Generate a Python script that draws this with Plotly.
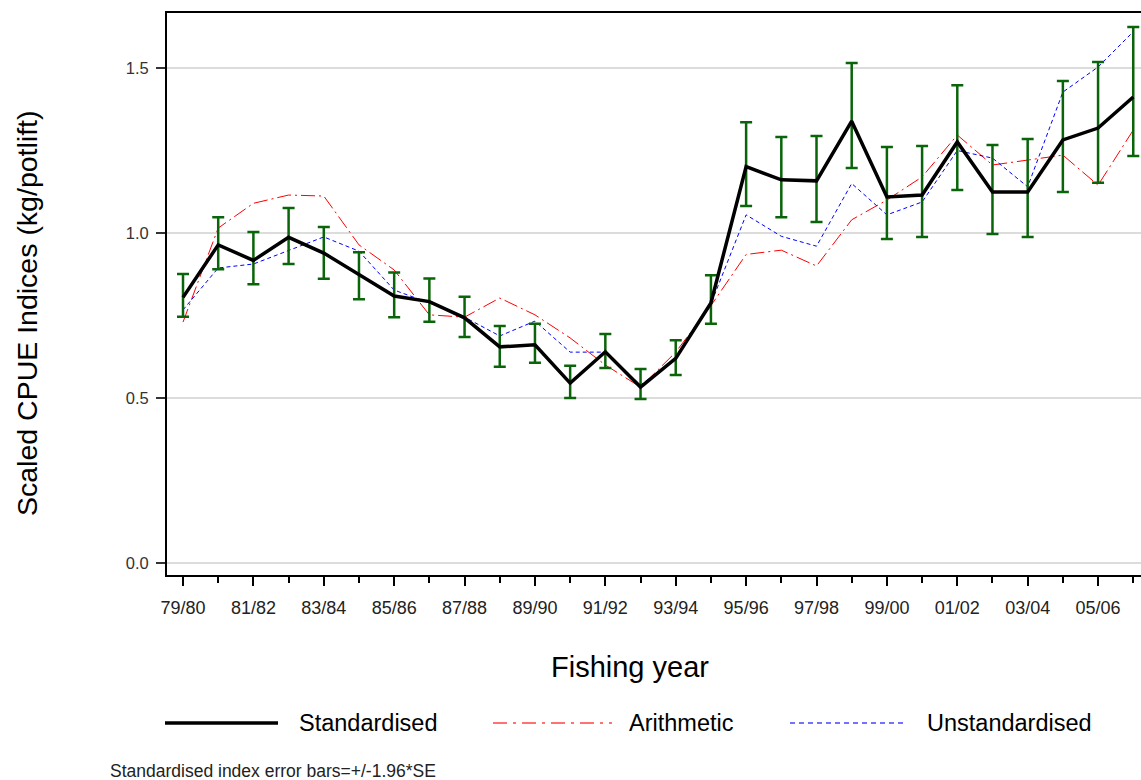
import plotly.graph_objects as go

years = ["79/80", "80/81", "81/82", "82/83", "83/84", "84/85", "85/86", "86/87",
         "87/88", "88/89", "89/90", "90/91", "91/92", "92/93", "93/94", "94/95",
         "95/96", "96/97", "97/98", "98/99", "99/00", "00/01", "01/02", "02/03",
         "03/04", "04/05", "05/06", "06/07"]

standardised = [0.805, 0.964, 0.917, 0.987, 0.939, 0.873, 0.809, 0.792, 0.743, 0.655,
                0.661, 0.545, 0.640, 0.533, 0.620, 0.788, 1.201, 1.161, 1.158, 1.339,
                1.109, 1.115, 1.276, 1.124, 1.124, 1.282, 1.318, 1.412]
upper_ci = [0.876, 1.048, 1.003, 1.076, 1.018, 0.942, 0.880, 0.862, 0.807, 0.718,
            0.725, 0.598, 0.694, 0.588, 0.675, 0.872, 1.336, 1.291, 1.294, 1.515,
            1.261, 1.264, 1.448, 1.267, 1.285, 1.461, 1.518, 1.624]
lower_ci = [0.746, 0.890, 0.845, 0.906, 0.861, 0.799, 0.745, 0.731, 0.685, 0.595,
            0.607, 0.500, 0.591, 0.497, 0.570, 0.725, 1.082, 1.048, 1.033, 1.197,
            0.982, 0.988, 1.130, 0.997, 0.988, 1.124, 1.152, 1.233]
arithmetic = [0.730, 1.015, 1.090, 1.115, 1.112, 0.964, 0.888, 0.752, 0.745, 0.803,
              0.752, 0.682, 0.600, 0.533, 0.639, 0.780, 0.935, 0.948, 0.900, 1.040,
              1.100, 1.170, 1.297, 1.206, 1.221, 1.236, 1.145, 1.312]
unstandardised = [0.767, 0.894, 0.906, 0.948, 0.988, 0.945, 0.827, 0.788, 0.745, 0.688,
                  0.733, 0.639, 0.639, 0.539, 0.621, 0.785, 1.055, 0.990, 0.960, 1.150,
                  1.055, 1.094, 1.250, 1.227, 1.140, 1.427, 1.503, 1.610]

y_ticks = [0.0, 0.5, 1.0, 1.5]
legend_names = ["Standardised", "Arithmetic", "Unstandardised"]

idx = list(range(len(years)))
err_plus = [u - s for u, s in zip(upper_ci, standardised)]
err_minus = [s - l for s, l in zip(standardised, lower_ci)]

W, H = 1141, 780
ML, MR, MT, MB = 167, 0, 13, 205
PW, PH = W - ML - MR, H - MT - MB

def px(x):
    return (x - ML) / PW

def py(y):
    return (H - MB - y) / PH

fig = go.Figure()
fig.add_trace(go.Scatter(x=idx, y=arithmetic, mode="lines", name=legend_names[1],
                         line=dict(color="#ff0000", width=1, dash="14px,4px,2px,4px"),
                         showlegend=False))
fig.add_trace(go.Scatter(x=idx, y=unstandardised, mode="lines", name=legend_names[2],
                         line=dict(color="#0000ff", width=1, dash="4px,3px"),
                         showlegend=False))
fig.add_trace(go.Scatter(x=idx, y=standardised, mode="lines", name=legend_names[0],
                         line=dict(color="#000000", width=3.5),
                         error_y=dict(type="data", symmetric=False, array=err_plus,
                                      arrayminus=err_minus, color="#0a640a",
                                      thickness=2.5, width=6),
                         showlegend=False))

narrow = "Liberation Sans Narrow, Arial Narrow, Liberation Sans, Arial, sans-serif"
sans = "Liberation Sans, Arial, sans-serif"

fig.update_layout(
    width=W, height=H,
    margin=dict(l=ML, r=MR, t=MT, b=MB, pad=0),
    paper_bgcolor="white", plot_bgcolor="white",
    font=dict(family=sans, color="#000000"),
    xaxis=dict(
        range=[-0.455, 27.22],
        tickmode="array",
        tickvals=idx[::2],
        ticktext=years[::2],
        ticks="outside", ticklen=9, tickwidth=1.5, tickcolor="#000000",
        minor=dict(tickmode="array", tickvals=idx[1::2], ticks="outside",
                   ticklen=6, tickwidth=1.5, tickcolor="#000000", showgrid=False),
        showgrid=False, zeroline=False,
        showline=True, linecolor="#000000", linewidth=2, mirror=True,
        tickfont=dict(family=narrow, size=18, color="#222222"),
        ticklabelstandoff=6,
    ),
    yaxis=dict(
        range=[-0.0364, 1.6667],
        tickmode="array",
        tickvals=y_ticks,
        ticktext=[f"{v:.1f}" for v in y_ticks],
        ticks="outside", ticklen=9, tickwidth=1.5, tickcolor="#333333",
        showgrid=True, gridcolor="#dcdcdc", gridwidth=2,
        zeroline=False,
        showline=True, linecolor="#000000", linewidth=2,
        tickfont=dict(family=sans, size=16.5, color="#333333"),
        ticklabelstandoff=4,
    ),
)

annotations = [
    dict(text="Fishing year", x=px(630), y=py(667), xref="paper", yref="paper",
         showarrow=False, xanchor="center", yanchor="middle",
         font=dict(family=sans, size=29, color="#000000")),
    dict(text="Scaled CPUE Indices (kg/potlift)", x=px(27), y=py(313),
         xref="paper", yref="paper", showarrow=False, textangle=-90,
         xanchor="center", yanchor="middle",
         font=dict(family=sans, size=28.5, color="#000000")),
    dict(text="Standardised index error bars=+/-1.96*SE", x=px(108), y=py(771),
         xref="paper", yref="paper", showarrow=False, xanchor="left",
         yanchor="middle", font=dict(family=sans, size=17.5, color="#222222")),
]
legend_text_x = [297, 627, 925]
for name, tx in zip(legend_names, legend_text_x):
    annotations.append(dict(text=name, x=px(tx), y=py(723), xref="paper", yref="paper",
                            showarrow=False, xanchor="left", yanchor="middle",
                            font=dict(family=sans, size=23.5, color="#000000")))

shapes = [
    dict(type="line", xref="paper", yref="paper", x0=px(165), x1=px(278),
         y0=py(723), y1=py(723), line=dict(color="#000000", width=3.5)),
    dict(type="line", xref="paper", yref="paper", x0=px(493), x1=px(612),
         y0=py(723), y1=py(723),
         line=dict(color="#ff4444", width=1.5, dash="14px,6px,3px,6px")),
    dict(type="line", xref="paper", yref="paper", x0=px(790), x1=px(905),
         y0=py(723), y1=py(723),
         line=dict(color="#4444ff", width=1.5, dash="5px,4px")),
]
fig.update_layout(annotations=annotations, shapes=shapes)

fig.write_html("out.html")
